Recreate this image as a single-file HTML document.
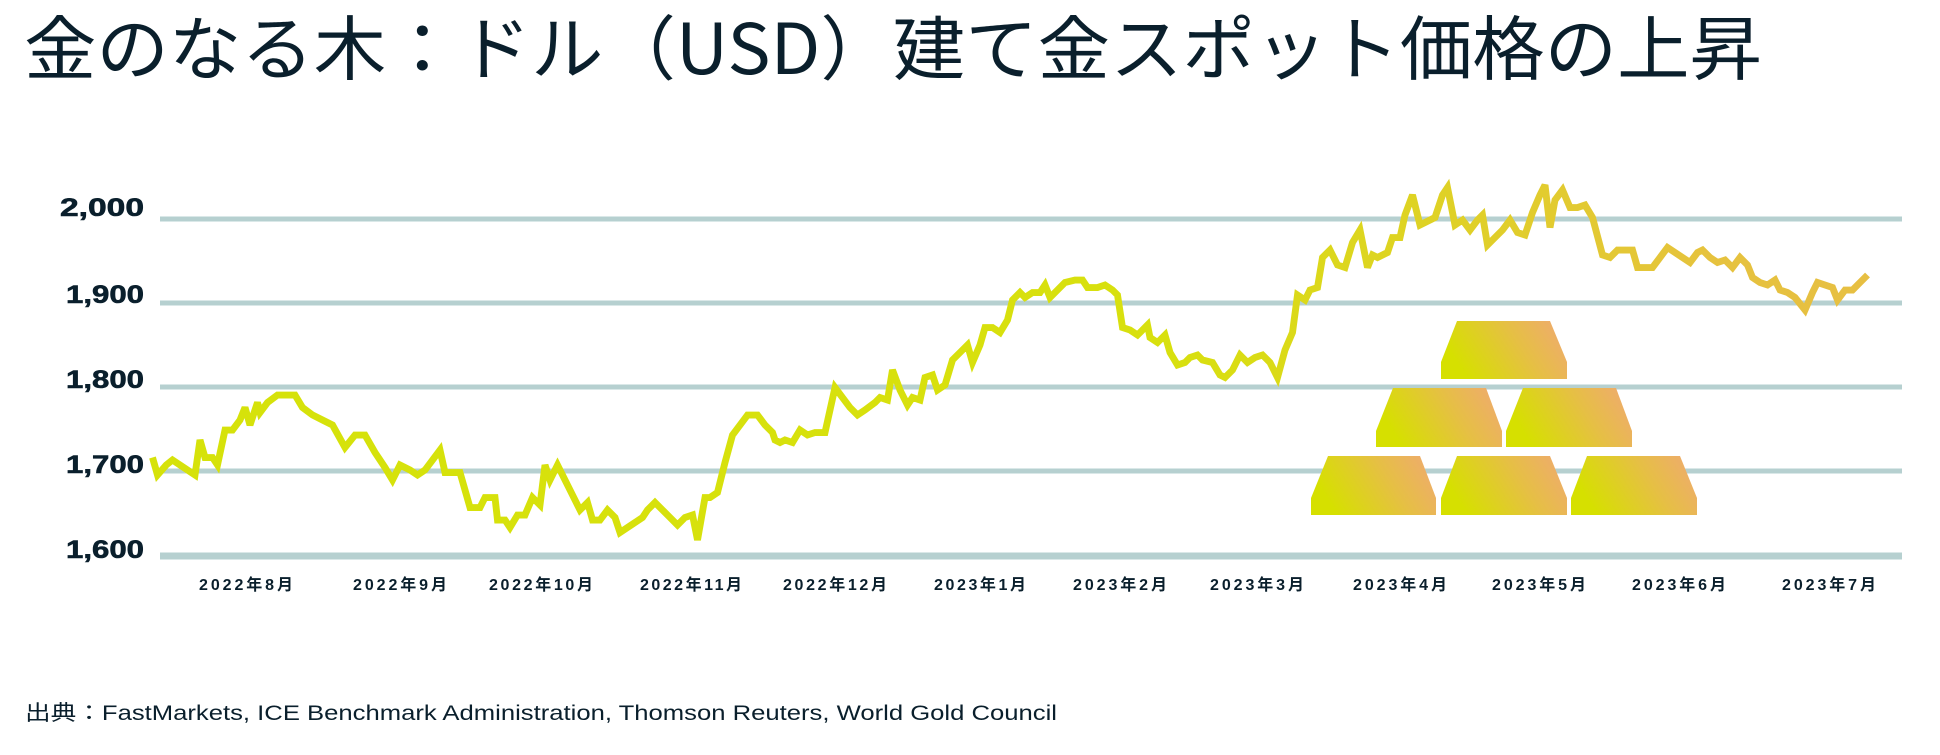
<!DOCTYPE html>
<html><head><meta charset="utf-8"><style>
html,body{margin:0;padding:0;background:#fff;width:1940px;height:755px;overflow:hidden}
svg{display:block}
</style></head><body>
<svg width="1940" height="755" viewBox="0 0 1940 755" xmlns="http://www.w3.org/2000/svg">
<defs>
<linearGradient id="lg" gradientUnits="userSpaceOnUse" x1="150" y1="0" x2="1900" y2="0">
<stop offset="0" stop-color="#d6e20a"/><stop offset="0.45" stop-color="#d8e00e"/><stop offset="0.7" stop-color="#e6c23e"/><stop offset="1" stop-color="#eab552"/>
</linearGradient>
<linearGradient id="bg" x1="0" y1="0.3" x2="1" y2="0">
<stop offset="0" stop-color="#d6e000"/><stop offset="0.55" stop-color="#e6bf45"/><stop offset="1" stop-color="#f0a874"/>
</linearGradient>
</defs>
<text x="24" y="74" font-family="'Noto Sans CJK JP',sans-serif" font-size="70" fill="#0a1f2c" textLength="1738" lengthAdjust="spacingAndGlyphs">金のなる木：ドル（USD）建て金スポット価格の上昇</text>
<g stroke="#b6d0d0" stroke-width="5">
<line x1="160" y1="219" x2="1902" y2="219"/>
<line x1="160" y1="303" x2="1902" y2="303"/>
<line x1="160" y1="387" x2="1902" y2="387"/>
<line x1="160" y1="471" x2="1902" y2="471"/>
<line x1="160" y1="556" x2="1902" y2="556" stroke-width="7"/>
</g>
<g font-family="'Liberation Sans',sans-serif" font-weight="bold" font-size="25" fill="#0a1f2c" text-anchor="end" stroke="#0a1f2c" stroke-width="0.6">
<text x="144" y="216" textLength="84" lengthAdjust="spacingAndGlyphs">2,000</text><text x="144" y="303" textLength="78" lengthAdjust="spacingAndGlyphs">1,900</text><text x="144" y="388" textLength="78" lengthAdjust="spacingAndGlyphs">1,800</text><text x="144" y="473" textLength="78" lengthAdjust="spacingAndGlyphs">1,700</text><text x="144" y="558" textLength="78" lengthAdjust="spacingAndGlyphs">1,600</text>
</g>
<g font-family="'Liberation Sans','Noto Sans CJK JP',sans-serif" font-weight="bold" font-size="16" fill="#0a1f2c" text-anchor="middle" lengthAdjust="spacingAndGlyphs">
<text x="246" y="590" textLength="94">2022年8月</text><text x="400" y="590" textLength="94">2022年9月</text><text x="541" y="590" textLength="104">2022年10月</text><text x="691" y="590" textLength="102">2022年11月</text><text x="835" y="590" textLength="104">2022年12月</text><text x="980" y="590" textLength="92">2023年1月</text><text x="1120" y="590" textLength="94">2023年2月</text><text x="1257" y="590" textLength="94">2023年3月</text><text x="1400" y="590" textLength="94">2023年4月</text><text x="1539" y="590" textLength="94">2023年5月</text><text x="1679" y="590" textLength="94">2023年6月</text><text x="1829" y="590" textLength="94">2023年7月</text>
</g>
<g fill="url(#bg)">
<polygon points="1457,321 1550,321 1567,362 1567,379 1441,379 1441,362"/>
<polygon points="1393,388 1486,388 1502,431 1502,447 1376,447 1376,431"/>
<polygon points="1523,388 1616,388 1632,431 1632,447 1506,447 1506,431"/>
<polygon points="1328,456 1420,456 1436,498 1436,515 1311,515 1311,498"/>
<polygon points="1457,456 1550,456 1567,498 1567,515 1441,515 1441,498"/>
<polygon points="1587,456 1680,456 1697,498 1697,515 1571,515 1571,498"/>
</g>
<g transform="scale(1.25)">
<polyline fill="none" stroke="url(#lg)" stroke-width="5.5" stroke-linejoin="miter" stroke-miterlimit="3" points="122,366 126,380 133,372 138,368 150,376 156,380 160,352 164,366 170,366 174,372 180,344 186,344 192,336 196,326 200,340 206,322 208,330 214,322 222,316 232,316 236,316 242,326 250,332 258,336 266,340 276,358 284,348 292,348 300,362 308,374 314,384 320,372 328,376 334,380 340,376 346,368 352,360 356,378 362,378 368,378 372,392 376,406 384,406 388,398 396,398 398,416 404,416 408,422 414,412 420,412 426,398 432,404 436,372 440,384 446,372 452,384 458,396 464,408 470,402 474,416 480,416 486,408 492,414 496,426 502,422 508,418 514,414 518,408 524,402 530,408 536,414 542,420 548,414 554,412 558,432 564,398 568,398 574,394 580,370 586,348 592,340 598,332 606,332 612,340 618,346 620,352 624,354 628,352 634,354 640,344 646,348 652,346 660,346 664,328 668,310 674,318 680,326 686,332 692,328 700,322 704,318 710,320 714,296 720,312 726,324 730,318 736,320 740,302 746,300 750,312 756,308 762,288 768,282 774,276 778,290 784,276 788,262 794,262 800,266 806,256 810,240 816,234 820,238 826,234 832,234 836,228 840,238 846,232 852,226 860,224 866,224 870,230 878,230 884,228 890,232 894,236 898,262 904,264 910,268 914,264 918,260 920,270 926,274 932,268 936,282 942,292 948,290 952,286 958,284 962,288 970,290 976,300 980,302 986,296 992,284 998,290 1004,286 1010,284 1016,290 1022,302 1028,280 1034,266 1038,236 1044,240 1048,232 1054,230 1058,206 1064,200 1070,212 1076,214 1082,194 1088,184 1094,214 1098,204 1102,206 1110,202 1114,190 1120,190 1124,172 1130,156 1136,180 1140,178 1148,174 1154,156 1158,150 1164,180 1170,176 1176,184 1182,176 1186,172 1190,196 1196,190 1202,184 1208,176 1214,186 1220,188 1226,170 1232,156 1236,148 1240,182 1244,160 1250,152 1256,166 1262,166 1268,164 1274,174 1282,204 1288,206 1294,200 1300,200 1306,200 1310,214 1316,214 1322,214 1328,206 1334,198 1340,202 1346,206 1352,210 1358,202 1362,200 1368,206 1374,210 1380,208 1386,214 1392,206 1398,212 1402,222 1408,226 1414,228 1420,224 1424,232 1430,234 1436,238 1444,248 1450,234 1454,226 1460,228 1466,230 1470,240 1476,232 1482,232 1488,226 1494,220"/>
</g>
<text x="25" y="720" font-family="'Liberation Sans','Noto Sans CJK JP',sans-serif" font-size="21" fill="#0a1f2c" textLength="1032" lengthAdjust="spacingAndGlyphs">出典：FastMarkets, ICE Benchmark Administration, Thomson Reuters, World Gold Council</text>
</svg>
</body></html>
